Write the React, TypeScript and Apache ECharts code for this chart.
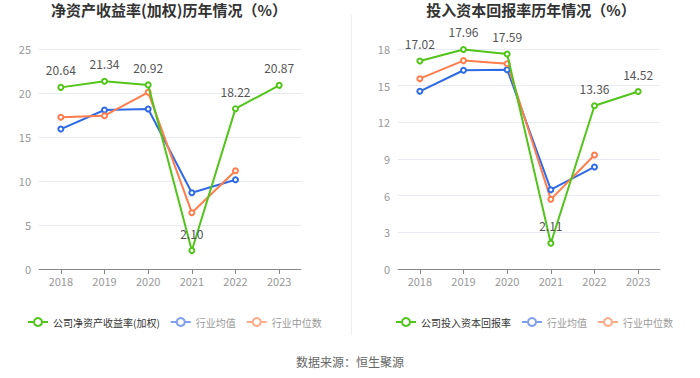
import React, { useEffect, useRef } from "react";
import * as echarts from "echarts";

const years = ["2018", "2019", "2020", "2021", "2022", "2023"];
const roeCompany = [20.64, 21.34, 20.92, 2.1, 18.22, 20.87];
const roeMean = [15.9, 18.07, 18.18, 8.67, 10.15];
const roeMedian = [17.24, 17.42, 20.08, 6.4, 11.17];
const roicCompany = [17.02, 17.96, 17.59, 2.11, 13.36, 14.52];
const roicMean = [14.54, 16.26, 16.31, 6.49, 8.35];
const roicMedian = [15.57, 17.05, 16.8, 5.7, 9.33];

const GREEN = "#52c41a";
const BLUE = "#2f6ae6";
const ORANGE = "#ff7d4d";
const FONT = "Noto Sans CJK SC";

export default function App() {
  const ref = useRef<HTMLDivElement>(null);
  useEffect(() => {
    if (!ref.current) return;
    const chart = echarts.init(ref.current, undefined, { renderer: "svg" });
    const line = (name: string, data: number[], color: string, xi: number, label: boolean) => ({
      name,
      type: "line",
      xAxisIndex: xi,
      yAxisIndex: xi,
      data,
      symbol: "emptyCircle",
      symbolSize: 5,
      lineStyle: { width: 2, color },
      itemStyle: { color, borderWidth: 1.5 },
      label: label
        ? { show: true, position: "top", distance: 8, color: "#555", fontSize: 12, fontFamily: FONT, formatter: (p: any) => p.value.toFixed(2) }
        : { show: false },
      z: label ? 3 : 2,
    });
    const xAxis = (gi: number) => ({
      type: "category",
      gridIndex: gi,
      data: years,
      axisLine: { lineStyle: { color: "#888" } },
      axisTick: { show: true, alignWithLabel: true, lineStyle: { color: "#888" } },
      axisLabel: { color: "#999", fontSize: 11, fontFamily: FONT, margin: 6 },
    });
    const yAxis = (gi: number, max: number, interval: number) => ({
      type: "value",
      gridIndex: gi,
      min: 0,
      max,
      interval,
      axisLine: { show: false },
      axisTick: { show: false },
      axisLabel: { color: "#999", fontSize: 11, fontFamily: FONT, margin: 8 },
      splitLine: { lineStyle: { color: "#e8ebf3" } },
    });
    const legendData = (first: string) => [
      { name: first, itemStyle: { color: GREEN, borderWidth: 2 }, lineStyle: { color: GREEN, width: 2 }, textStyle: { color: "#333" } },
      { name: "行业均值", itemStyle: { color: "#7ea0ee", borderWidth: 2 }, lineStyle: { color: "#7ea0ee", width: 2 }, textStyle: { color: "#999" } },
      { name: "行业中位数", itemStyle: { color: "#ffab8c", borderWidth: 2 }, lineStyle: { color: "#ffab8c", width: 2 }, textStyle: { color: "#999" } },
    ];
    chart.setOption({
      animation: false,
      textStyle: { fontFamily: FONT },
      title: [
        { text: "净资产收益率(加权)历年情况（%）", left: 169, textAlign: "center", top: 2, padding: 0, textStyle: { fontSize: 15, fontWeight: "bold", color: "#333", fontFamily: FONT } },
        { text: "投入资本回报率历年情况（%）", left: 531, textAlign: "center", top: 2, padding: 0, textStyle: { fontSize: 15, fontWeight: "bold", color: "#333", fontFamily: FONT } },
      ],
      legend: [
        { left: 22, top: 312, width: 320, itemWidth: 20, itemHeight: 10, itemGap: 10, textStyle: { fontSize: 10, fontFamily: FONT }, data: legendData("公司净资产收益率(加权)") },
        { left: 390, top: 312, width: 305, itemWidth: 20, itemHeight: 10, itemGap: 10, textStyle: { fontSize: 10, fontFamily: FONT }, data: legendData("公司投入资本回报率") },
      ],
      grid: [
        { left: 39, right: 399, top: 49, bottom: 109 },
        { left: 398, right: 40, top: 49, bottom: 109 },
      ],
      xAxis: [xAxis(0), xAxis(1)],
      yAxis: [yAxis(0, 25, 5), yAxis(1, 18, 3)],
      series: [
        line("公司净资产收益率(加权)", roeCompany, GREEN, 0, true),
        line("行业均值", roeMean, BLUE, 0, false),
        line("行业中位数", roeMedian, ORANGE, 0, false),
        line("公司投入资本回报率", roicCompany, GREEN, 1, true),
        line("行业均值", roicMean, BLUE, 1, false),
        line("行业中位数", roicMedian, ORANGE, 1, false),
      ],
      graphic: [
        { type: "line", shape: { x1: 351.5, y1: 15, x2: 351.5, y2: 335 }, style: { stroke: "#eeeeee", lineWidth: 1 } },
        { type: "text", x: 350, y: 361, style: { text: "数据来源：恒生聚源", fill: "#666", fontSize: 12, fontFamily: FONT, textAlign: "center", textVerticalAlign: "middle" } },
      ],
    });
    return () => chart.dispose();
  }, []);
  return <div ref={ref} style={{ width: 700, height: 378, position: "absolute", left: 0, top: 0 }} />;
}
